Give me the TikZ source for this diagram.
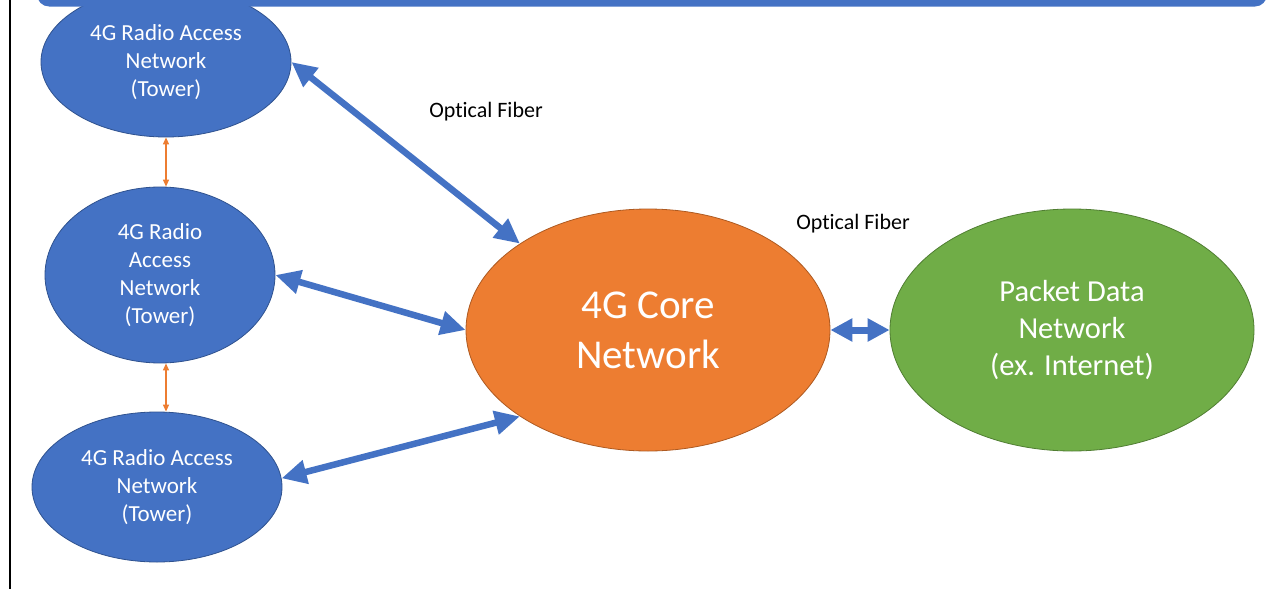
\documentclass[tikz,border=0pt]{standalone}
\usepackage{fontspec}
\setmainfont{Carlito}[Ligatures=NoCommon]
\usepackage{tikz}
\usetikzlibrary{arrows.meta,positioning,shapes.geometric,calc}
\usepackage{xcolor}
\definecolor{ranblue}{RGB}{68,114,196}
\definecolor{ranedge}{RGB}{47,82,143}
\definecolor{coreorange}{RGB}{237,125,49}
\definecolor{coreedge}{RGB}{174,90,33}
\definecolor{pdngreen}{RGB}{112,173,71}
\definecolor{pdnedge}{RGB}{80,126,50}
\tikzset{
  rannode/.style={ellipse,draw=ranedge,fill=ranblue,line width=0.8pt,minimum width=250pt,minimum height=150pt,
    align=center,inner sep=0pt,text=white,font=\fontsize{23}{28}\selectfont},
  corenode/.style={rannode,draw=coreedge,fill=coreorange,minimum width=364pt,minimum height=242pt,
    font=\fontsize{41}{50}\selectfont},
  pdnnode/.style={corenode,draw=pdnedge,fill=pdngreen,font=\fontsize{30.5}{37}\selectfont},
  fiber/.style={{Triangle[length=25pt,width=23pt]}-{Triangle[length=25pt,width=23pt]},line width=6.5pt,draw=ranblue},
  shortfiber/.style={{Triangle[length=22pt,width=22pt]}-{Triangle[length=22pt,width=22pt]},line width=7pt,draw=ranblue},
  xlink/.style={{Triangle[length=7pt,width=6pt]}-{Triangle[length=7pt,width=6pt]},line width=1.2pt,draw=coreorange},
  labelnote/.style={font=\fontsize{22}{26}\selectfont,inner sep=0pt,text=black}
}
\begin{document}
\begin{tikzpicture}[x=1pt,y=-1pt]
  \useasboundingbox (0,0) rectangle (1283,589);
  \fill[white] (0,0) rectangle (1283,589);
  \node[rannode] (ran1) at (166,62) {4G Radio Access\\Network\\(Tower)};
  \node[rannode,minimum width=230pt,minimum height=176pt] (ran2) at (160,275) {4G Radio\\Access\\Network\\(Tower)};
  \node[rannode] (ran3) at (157,487) {4G Radio Access\\Network\\(Tower)};
  \node[corenode] (core) at (648,330) {4G Core\\Network};
  \node[pdnnode] (pdn) at (1072,330) {Packet Data\\Network\\(ex. Internet)};
  \node[labelnote] (fib1) at (486,112) {Optical Fiber};
  \node[labelnote] (fib2) at (853,224) {Optical Fiber};
  % links
  \draw[fiber] (ran1.east) -- (core.146);
  \draw[fiber] (ran2.east) -- (core.west);
  \draw[fiber] (ran3.4) -- (core.214);
  \draw[shortfiber] (core.east) -- (pdn.west);
  \draw[xlink] (ran1.south) -- (ran1.south |- ran2.north);
  \draw[xlink] (ran2.south -| ran1.south) -- (ran3.north -| ran1.south);
  % frame
  \fill[ranblue,rounded corners=12pt] (37,-40) rectangle (1267,6.5);
  \draw[line width=2pt] (10,0) -- (10,589);
\end{tikzpicture}
\end{document}
